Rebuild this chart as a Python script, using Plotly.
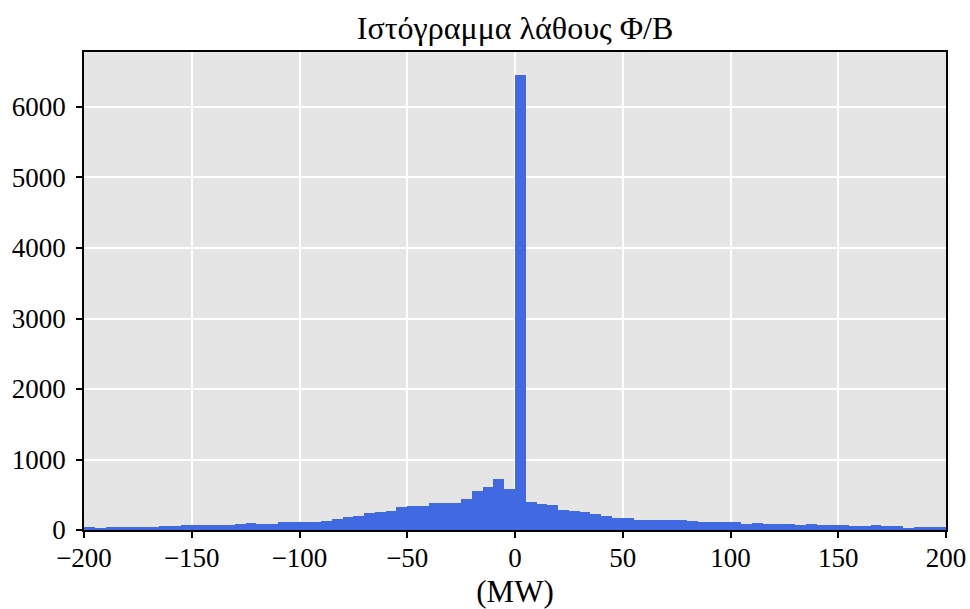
import plotly.graph_objects as go

bin_width = 5
bin_start = -200
counts = [48, 35, 38, 45, 40, 40, 45, 58, 55, 64,
          64, 78, 66, 70, 80, 100, 92, 80, 110, 108,
          120, 120, 125, 150, 187, 203, 240, 260, 276, 328,
          347, 342, 389, 389, 385, 442, 550, 612, 720, 588,
          6450, 404, 375, 361, 290, 272, 252, 229, 196, 177,
          172, 147, 146, 144, 142, 138, 130, 120, 108, 108,
          110, 88, 104, 88, 88, 88, 72, 90, 74, 74,
          72, 59, 59, 68, 59, 54, 35, 45, 45, 40]
centers = [bin_start + bin_width * (i + 0.5) for i in range(len(counts))]

x_ticks = [-200, -150, -100, -50, 0, 50, 100, 150, 200]
y_ticks = [0, 1000, 2000, 3000, 4000, 5000, 6000]

title_text = "Ιστόγραμμα λάθους Φ/Β"
x_title = "(MW)"

font_family = "Liberation Serif, Times New Roman, serif"

fig = go.Figure(go.Bar(
    x=centers, y=counts, width=bin_width,
    marker=dict(color="#4169e1", line=dict(width=0)),
    hoverinfo="skip",
))

fig.update_layout(
    width=970, height=609,
    margin=dict(l=84, r=24, t=52, b=79, autoexpand=False),
    paper_bgcolor="white",
    plot_bgcolor="#e5e5e5",
    font=dict(family=font_family, size=27, color="black"),
    title=dict(text=title_text, x=0.531, xref="container", xanchor="center",
               y=1 - 28 / 609, yref="container", yanchor="middle",
               font=dict(size=32, family=font_family)),
    bargap=0,
    showlegend=False,
)
fig.update_xaxes(
    range=[-200, 200], tickvals=x_ticks, ticktext=[("−" + str(-v)) if v < 0 else str(v) for v in x_ticks],
    showgrid=True, gridcolor="white", gridwidth=1.5,
    showline=True, linecolor="black", linewidth=1.5, mirror=True,
    ticks="outside", ticklen=6, tickwidth=1.5, tickcolor="black",
    zeroline=False, automargin=False, ticklabelstandoff=-3,
    title=dict(text=x_title, standoff=11, font=dict(size=31)),
    tickfont=dict(size=27),
)
fig.update_yaxes(
    range=[0, 6780], tickvals=y_ticks,
    showgrid=True, gridcolor="white", gridwidth=1.5,
    showline=True, linecolor="black", linewidth=1.5, mirror=True,
    ticks="outside", ticklen=6, tickwidth=1.5, tickcolor="black",
    zeroline=False, automargin=False, ticklabelstandoff=5, tickfont=dict(size=27),
)

fig.write_html(
    "out.html",
    config={"displayModeBar": False},
    post_script="document.body.style.margin='0';document.body.style.overflow='hidden';",
)
